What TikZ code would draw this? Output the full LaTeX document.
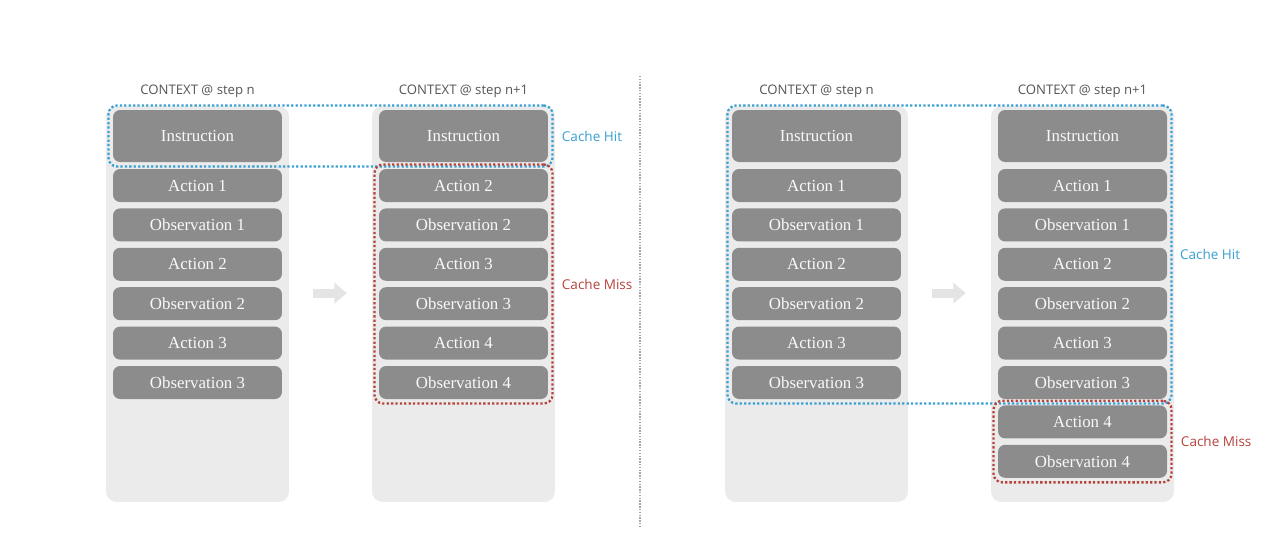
\documentclass[tikz,border=0pt]{standalone}
\usepackage{fontspec}
\setmainfont{Liberation Serif}
\newfontfamily\labelfont{Open Sans}
\usetikzlibrary{positioning,fit,arrows.meta}

\definecolor{boxgray}{HTML}{8C8C8C}
\definecolor{colgray}{HTML}{EBEBEB}
\definecolor{hitblue}{HTML}{3A9FD2}
\definecolor{missred}{HTML}{B5433B}
\definecolor{arrowgray}{HTML}{E4E4E4}
\definecolor{labelgray}{HTML}{555555}

\tikzset{
  colbg/.style={fill=colgray, rounded corners=6pt, minimum width=3.66cm, minimum height=7.92cm, inner sep=0},
  item/.style={fill=boxgray, rounded corners=4pt, text=white!95!gray, minimum width=3.38cm, minimum height=0.66cm, inner sep=0, font=\fontsize{9.6}{11}\selectfont},
  instr/.style={item, minimum height=1.04cm},
  ctxlabel/.style={font=\labelfont\fontsize{7.5}{9}\selectfont, text=labelgray, inner sep=0},
  hitbox/.style={draw=hitblue, line width=1.3pt, dash pattern=on 1.3pt off 1.2pt, rounded corners=5pt, inner sep=2.4pt},
  missbox/.style={hitbox, draw=missred},
  hitlabel/.style={font=\labelfont\fontsize{7.7}{9}\selectfont, text=hitblue, inner sep=0},
  misslabel/.style={hitlabel, text=missred},
  flow/.style={draw=arrowgray, line width=5pt, -{Triangle[length=7pt, width=11.5pt]}, shorten <=13.6pt, shorten >=14.2pt},
  sepline/.style={draw=gray!70, line width=0.8pt, dash pattern=on 0.8pt off 0.8pt}
}

\begin{document}
\begin{tikzpicture}[x=0.02cm, y=-0.02cm]
    \useasboundingbox (0,0) rectangle (1280,545);

    % COLUMNES DE FONS
    \foreach \n/\x in {A/197.5, B/463.5, C/816.5, D/1082.5} {
        \node[colbg] (col\n) at (\x, 304) {};
        \node[instr] (instr\n) at (\x, 136) {Instruction};
    }

    % TITOLS DE CONTEXT
    \node[ctxlabel, above=4.5pt of colA] (ctxA) {CONTEXT @ step n};
    \node[ctxlabel, above=4.5pt of colB] (ctxB) {CONTEXT @ step n+1};
    \node[ctxlabel, above=4.5pt of colC] (ctxC) {CONTEXT @ step n};
    \node[ctxlabel, above=4.5pt of colD] (ctxD) {CONTEXT @ step n+1};

    % FILES (pas n)
    \foreach \i/\t in {1/Action 1, 2/Observation 1, 3/Action 2, 4/Observation 2, 5/Action 3, 6/Observation 3} {
        \node[item] (rA\i) at (197.5, {185.5+39.4*(\i-1)}) {\t};
        \node[item] (rC\i) at (816.5, {185.5+39.4*(\i-1)}) {\t};
    }

    % FILES (pas n+1)
    \foreach \i/\t in {1/Action 2, 2/Observation 2, 3/Action 3, 4/Observation 3, 5/Action 4, 6/Observation 4}
        \node[item] (rB\i) at (463.5, {185.5+39.4*(\i-1)}) {\t};
    \foreach \i/\t in {1/Action 1, 2/Observation 1, 3/Action 2, 4/Observation 2, 5/Action 3, 6/Observation 3, 7/Action 4, 8/Observation 4}
        \node[item] (rD\i) at (1082.5, {185.5+39.4*(\i-1)}) {\t};

    % FLETXES
    \draw[flow] ([yshift=6.2pt]colA.east) -- ([yshift=6.2pt]colB.west);
    \draw[flow] ([yshift=6.2pt]colC.east) -- ([yshift=6.2pt]colD.west);

    % SEPARADOR
    \draw[sepline] (640,76) -- (640,528);

    % CACHE (esquerra)
    \node[hitbox, fit=(instrA)(instrB)] (hitL) {};
    \node[missbox, fit=(rB1)(rB6)] (missL) {};
    \node[hitlabel, right=4.5pt of hitL] (hitLtxt) {Cache Hit};
    \node[misslabel, right=4.5pt of missL] (missLtxt) {Cache Miss};

    % CACHE (dreta)
    \node[hitbox, fit=(instrC)(rD6)] (hitR) {};
    \node[missbox, fit=(rD7)(rD8)] (missR) {};
    \node[hitlabel, right=4pt of hitR] (hitRtxt) {Cache Hit};
    \node[misslabel, right=4.5pt of missR] (missRtxt) {Cache Miss};
\end{tikzpicture}
\end{document}
